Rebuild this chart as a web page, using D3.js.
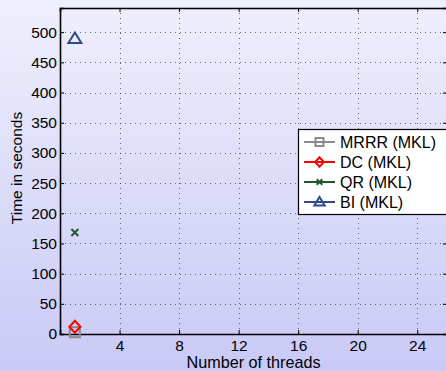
<!DOCTYPE html>
<html>
<head>
<meta charset="utf-8">
<script src="https://cdn.jsdelivr.net/npm/d3@7"></script>
<style>
  html, body { margin: 0; padding: 0; }
  body { width: 446px; height: 371px; overflow: hidden; }
  text { font-family: "Liberation Sans", Arial, sans-serif; fill: #000; }
</style>
</head>
<body>
<svg id="chart" width="446" height="371"></svg>
<script>
// Timings of the eigensolvers (MKL) versus thread count
const methods = ["MRRR (MKL)", "DC (MKL)", "QR (MKL)", "BI (MKL)"];
const threads = [1];
const mrrrTimes = [3];
const dcTimes = [12];
const qrTimes = [168];
const biTimes = [489];
const xTicks = [4, 8, 12, 16, 20, 24];
const yTicks = [0, 50, 100, 150, 200, 250, 300, 350, 400, 450, 500];

const seriesColors = ["#8a8a8a", "#ff0000", "#1f5a2c", "#2f4a88"];
const seriesShapes = ["square", "diamond", "cross", "triangle"];
const seriesValues = [mrrrTimes, dcTimes, qrTimes, biTimes];

const W = 446, H = 371;
const margin = { left: 60, right: -1, top: 8, bottom: 37 };
const x0 = margin.left, x1 = W - margin.right;
const y0 = H - margin.bottom, y1 = margin.top;
const FONT = 15.5;

const svg = d3.select("#chart");

// Figure background: soft lavender vertical gradient
const defs = svg.append("defs");
const grad = defs.append("linearGradient").attr("id", "bg").attr("x1", 0).attr("y1", 0).attr("x2", 0).attr("y2", 1);
grad.append("stop").attr("offset", "0%").attr("stop-color", "#efeffd");
grad.append("stop").attr("offset", "100%").attr("stop-color", "#c9c9f6");
svg.append("rect").attr("width", W).attr("height", H).attr("fill", "url(#bg)");

const x = d3.scaleLinear().domain([0, 26]).range([x0, x1]);
const y = d3.scaleLinear().domain([0, 540]).range([y0, y1]);

// Dotted grid
const grid = svg.append("g");
grid.selectAll("line.vx").data(xTicks).join("line")
  .attr("x1", d => Math.round(x(d)) + 0.5).attr("x2", d => Math.round(x(d)) + 0.5)
  .attr("y1", y1).attr("y2", y0)
  .attr("stroke", "#333").attr("stroke-width", 1).attr("stroke-dasharray", "1,4").attr("opacity", 0.7);
grid.selectAll("line.hy").data(yTicks.filter(d => d > 0)).join("line")
  .attr("y1", d => Math.round(y(d)) + 0.5).attr("y2", d => Math.round(y(d)) + 0.5)
  .attr("x1", x0).attr("x2", x1)
  .attr("stroke", "#333").attr("stroke-width", 1).attr("stroke-dasharray", "1,4").attr("opacity", 0.7);

// Axes with inward ticks on all four sides
const tickLen = 4;
const xAxis = d3.axisBottom(x).tickValues(xTicks).tickSize(-tickLen).tickPadding(6).tickFormat(d3.format("d"));
const yAxis = d3.axisLeft(y).tickValues(yTicks).tickSize(-tickLen).tickPadding(3).tickFormat(d3.format("d"));
const xTop = d3.axisTop(x).tickValues(xTicks).tickSize(-tickLen).tickFormat("");
const yRight = d3.axisRight(y).tickValues(yTicks).tickSize(-tickLen).tickFormat("");

function styleAxis(g) {
  g.attr("font-size", FONT);
  g.select(".domain").attr("stroke", "#000").attr("stroke-width", 1.6);
  g.selectAll(".tick line").attr("stroke", "#000").attr("stroke-width", 1);
  g.selectAll(".tick text").attr("font-size", FONT).attr("font-family", "Liberation Sans, Arial, sans-serif").attr("fill", "#000");
}
svg.append("g").attr("transform", `translate(0,${y0})`).call(xAxis).call(styleAxis);
svg.append("g").attr("transform", `translate(${x0},0)`).call(yAxis).call(styleAxis);
svg.append("g").attr("transform", `translate(0,${y1})`).call(xTop).call(styleAxis);
svg.append("g").attr("transform", `translate(${x1},0)`).call(yRight).call(styleAxis);

// Axis labels
svg.append("text").attr("x", (x0 + x1) / 2).attr("y", 368)
  .attr("text-anchor", "middle").attr("font-size", 16.2).text("Number of threads");
svg.append("text").attr("transform", `translate(22,168) rotate(-90)`)
  .attr("text-anchor", "middle").attr("font-size", 15.5).text("Time in seconds");

// Marker drawing helper
function drawMarker(g, shape, color, cx, cy, s) {
  if (shape === "square") {
    g.append("rect").attr("x", cx - s).attr("y", cy - s).attr("width", 2 * s).attr("height", 2 * s)
      .attr("fill", "none").attr("stroke", color).attr("stroke-width", 2);
  } else if (shape === "diamond") {
    g.append("path").attr("d", `M${cx},${cy - s * 1.2}L${cx + s * 1.1},${cy}L${cx},${cy + s * 1.2}L${cx - s * 1.1},${cy}Z`)
      .attr("fill", "none").attr("stroke", color).attr("stroke-width", 2);
  } else if (shape === "cross") {
    const c = s * 0.7;
    g.append("path").attr("d", `M${cx - c},${cy - c}L${cx + c},${cy + c}M${cx - c},${cy + c}L${cx + c},${cy - c}`)
      .attr("fill", "none").attr("stroke", color).attr("stroke-width", 2);
  } else if (shape === "triangle") {
    g.append("path").attr("d", `M${cx},${cy - s * 1.25}L${cx + s * 1.3},${cy + s * 0.85}L${cx - s * 1.3},${cy + s * 0.85}Z`)
      .attr("fill", "none").attr("stroke", color).attr("stroke-width", 2);
  }
}

// Data points
const marks = svg.append("g");
seriesValues.forEach((vals, i) => {
  const pts = threads.map((t, j) => [x(t), y(vals[j])]);
  if (pts.length > 1) {
    marks.append("path").attr("d", d3.line()(pts)).attr("fill", "none")
      .attr("stroke", seriesColors[i]).attr("stroke-width", 1.6);
  }
  pts.forEach(p => drawMarker(marks, seriesShapes[i], seriesColors[i], p[0], p[1], 5));
});

// Legend
const lg = svg.append("g");
const lx = 298.5, ly = 129.5, lw = 150, lh = 85;
lg.append("rect").attr("x", lx).attr("y", ly).attr("width", lw).attr("height", lh)
  .attr("fill", "#fff").attr("stroke", "#000").attr("stroke-width", 1.2);
methods.forEach((name, i) => {
  const cy = 142 + i * 20;
  lg.append("line").attr("x1", 304).attr("x2", 335).attr("y1", cy).attr("y2", cy)
    .attr("stroke", seriesColors[i]).attr("stroke-width", 2);
  drawMarker(lg, seriesShapes[i], seriesColors[i], 319.5, cy, 4);
  lg.append("text").attr("x", 340).attr("y", cy + 6).attr("font-size", 16).text(name);
});
</script>
</body>
</html>
